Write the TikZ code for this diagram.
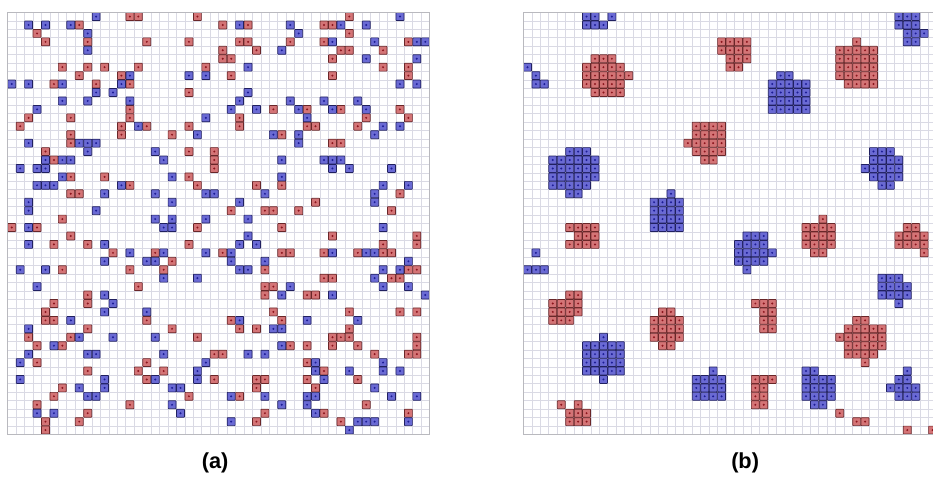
\documentclass[tikz,border=0pt]{standalone}
\usepackage{fontspec}
\setsansfont{Liberation Sans}
\definecolor{gridgray}{RGB}{218,218,228}
\definecolor{framegray}{RGB}{185,185,190}
\definecolor{cellred}{RGB}{212,116,118}
\definecolor{edgered}{RGB}{105,38,40}
\definecolor{dotred}{RGB}{140,20,28}
\definecolor{cellblue}{RGB}{106,106,212}
\definecolor{edgeblue}{RGB}{32,32,96}
\definecolor{dotblue}{RGB}{28,28,150}

\begin{document}
\begin{tikzpicture}[scale=0.3,
    gridline/.style={draw=gridgray, line width=0.35pt},
    frameline/.style={draw=framegray, line width=0.7pt},
    redcell/.style={fill=cellred, draw=edgered, line width=0.7pt, rounded corners=0.5pt},
    bluecell/.style={fill=cellblue, draw=edgeblue, line width=0.7pt, rounded corners=0.5pt},
    subcap/.style={font=\sffamily\bfseries\fontsize{22}{26}\selectfont}]

    % whole figure: 933 x 478 px, one cell = 8.44 px
    \useasboundingbox (-0.89,1.46) rectangle (109.66,-55.18);
    \clip (-0.89,1.46) rectangle (109.66,-55.18);

    % (a) 50 x 50 lattice, mixed state
    \begin{scope}
        \draw[gridline] (0,0) grid (50,-50);

        % red particles, row/columns
        \foreach \r/\cols in {0/{14,15,22,40}, 1/{8,25,28,37,38}, 2/{3,40},
                3/{4,9,16,21,27,28,33,37,47}, 4/{25,29,39,40,44}, 5/{25,26,38},
                6/{6,9,11,15,23,44,47}, 7/{8,13,26,38,47}, 8/{5,10,14}, 9/{21},
                11/{14,31,35,39,46}, 12/{2,7,14,27,42,47}, 13/{1,13,16,21,27,35,36,41},
                14/{7,13,19,32}, 15/{7,38,39}, 16/{4,21,24}, 17/{5,24}, 18/{24},
                19/{7,11,21}, 20/{14,22,29,32}, 21/{7,8,46}, 22/{36},
                23/{26,30,31,34,45}, 24/{6}, 25/{0,3,22,32}, 26/{7,38,48},
                27/{5,9,21,44,48}, 28/{12,17,25,32,33,37,41,44,45}, 29/{19},
                30/{6,14,18,30,47,48}, 31/{37,38,45,46}, 32/{15,30,31},
                33/{9,30,35,36}, 34/{5,9}, 35/{4,31,40,46,48}, 36/{4,5,16,26,32},
                37/{9,19,27,29,40}, 38/{2,7,22,38,39,40,48}, 39/{3,6,33,35,38,41,48},
                40/{24,25,43,47,48}, 41/{3,16,35}, 42/{9,15,18,37},
                43/{16,24,29,30,35,41}, 44/{6,29,36}, 45/{5,21,27}, 46/{3,14,42},
                47/{9,30,37,47}, 48/{4,8,29,39}, 49/{4}}
            \foreach \c in \cols {
                \draw[redcell] (\c+0.03,-\r-0.03) rectangle ++(0.94,-0.94);
                \fill[dotred] (\c+0.5,-\r-0.5) circle (0.13);
            }

        % blue particles
        \foreach \r/\cols in {0/{10,46}, 1/{2,4,7,27,33,39,42}, 2/{9,34},
                3/{38,43,48,49}, 4/{9,32}, 5/{42,48}, 6/{28}, 7/{14,21,23},
                8/{0,2,6,13,46,48}, 9/{10,12,28}, 10/{6,9,14,27,33,37,41},
                11/{3,26,29,34,38,42}, 12/{23,35}, 13/{15,44,46}, 14/{22,31,34,43},
                15/{2,8,9,10,34}, 16/{9,17}, 17/{4,6,7,18,32,37,38,39},
                18/{1,3,4,38,40,45}, 19/{6,19,32}, 20/{3,4,5,13,44,47},
                21/{11,17,23,24,30,43}, 22/{2,19,27,43}, 23/{2,10}, 24/{17,19,23,28},
                25/{2,18,19,44}, 26/{28}, 27/{2,11,27,29}, 28/{14,18,23,26,38,42,43},
                29/{11,16,17,26,30,47}, 30/{1,4,27,28,44,46}, 31/{18,22,43},
                32/{3,33,44,47}, 33/{11,32,38,49}, 34/{12}, 35/{11,16},
                36/{7,27,35,41}, 37/{2,31,32}, 38/{8,12,17}, 39/{5,32},
                40/{2,9,10,18,28,30}, 41/{1,23,36,44}, 42/{22,36,40,44,46},
                43/{1,11,17,22,37}, 44/{8,11,19,20,43}, 45/{9,10,26,30,35,36,45,48},
                46/{19,32,35}, 47/{3,5,20,36}, 48/{26,41,42,43,47}, 49/{40}}
            \foreach \c in \cols {
                \draw[bluecell] (\c+0.03,-\r-0.03) rectangle ++(0.94,-0.94);
                \fill[dotblue] (\c+0.5,-\r-0.5) circle (0.13);
            }

        \draw[frameline] (0,0) rectangle (50,-50);
    \end{scope}

    % (b) same lattice after separation (cut at the right)
    \begin{scope}[shift={(61.11,0)}]
        \draw[gridline] (0,0) grid (50,-50);

        % red clusters
        \foreach \r/\cols in {3/{23,24,25,26,39}, 4/{23,24,25,26,37,38,39,40,41},
                5/{8,9,10,24,25,26,37,38,39,40,41}, 6/{7,8,9,10,11,24,25,37,38,39,40,41},
                7/{7,8,9,10,11,12,37,38,39,40,41}, 8/{7,8,9,10,11,38,39,40,41},
                9/{8,9,10,11}, 13/{20,21,22,23}, 14/{20,21,22,23},
                15/{19,20,21,22,23}, 16/{20,21,22,23}, 17/{21,22}, 24/{35},
                25/{5,6,7,8,33,34,35,36,45,46}, 26/{6,7,8,33,34,35,36,44,45,46,47},
                27/{5,6,7,8,33,34,35,36,44,45,46,47}, 28/{34,35,47}, 33/{5,6},
                34/{3,4,5,6,27,28,29}, 35/{3,4,5,6,16,17,28,29},
                36/{3,4,5,15,16,17,18,28,29,39,40}, 37/{15,16,17,18,28,29,38,39,40,41,42},
                38/{15,16,17,18,37,38,39,40,41,42}, 39/{16,17,38,39,40,41,42},
                40/{38,39,40,41}, 41/{40}, 43/{27,28,29}, 44/{27,28}, 45/{27,28},
                46/{4,6,27,28}, 47/{5,6,7,37}, 48/{5,6,7,39,40}, 49/{45,48}}
            \foreach \c in \cols {
                \draw[redcell] (\c+0.03,-\r-0.03) rectangle ++(0.94,-0.94);
                \fill[dotred] (\c+0.5,-\r-0.5) circle (0.13);
            }

        % blue clusters
        \foreach \r/\cols in {0/{7,8,10,44,45,46}, 1/{7,8,9,44,45,46}, 2/{45,46,47},
                3/{45,46}, 6/{0}, 7/{1,30,31}, 8/{1,2,29,30,31,32,33},
                9/{29,30,31,32,33}, 10/{29,30,31,32,33}, 11/{29,30,31,32,33},
                16/{5,6,7,41,42,43}, 17/{3,4,5,6,7,8,41,42,43,44},
                18/{3,4,5,6,7,8,40,41,42,43,44}, 19/{3,4,5,6,7,8,41,42,43,44},
                20/{3,4,5,6,7,42,43}, 21/{5,6,17}, 22/{15,16,17,18},
                23/{15,16,17,18}, 24/{15,16,17,18}, 25/{15,16,17,18},
                26/{26,27,28}, 27/{25,26,27,28}, 28/{1,25,26,27,28,29},
                29/{25,26,27,28}, 30/{0,1,2,26}, 31/{42,43,44}, 32/{42,43,44,45},
                33/{42,43,44,45}, 34/{44}, 38/{9}, 39/{7,8,9,10,11},
                40/{7,8,9,10,11}, 41/{7,8,9,10,11}, 42/{7,8,9,10,11,22,33,34,45},
                43/{9,20,21,22,23,33,34,35,36,44,45},
                44/{20,21,22,23,33,34,35,36,43,44,45,46},
                45/{20,21,22,23,33,34,35,36,44,45,46}, 46/{34,35}}
            \foreach \c in \cols {
                \draw[bluecell] (\c+0.03,-\r-0.03) rectangle ++(0.94,-0.94);
                \fill[dotblue] (\c+0.5,-\r-0.5) circle (0.13);
            }

        \draw[frameline] (0,0) rectangle (50,-50);
    \end{scope}

    % captions
    \node[subcap] (capa) at (24.6,-53.4) {(a)};
    \node[subcap] (capb) at (87.4,-53.4) {(b)};
\end{tikzpicture}
\end{document}
